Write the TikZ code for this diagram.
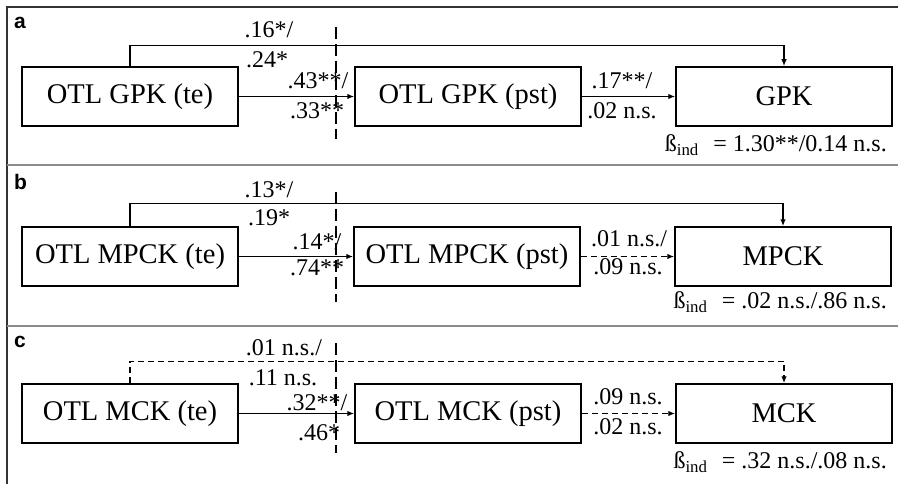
\documentclass[tikz,border=0pt]{standalone}
\usepackage{fontspec}
\setmainfont{Liberation Serif}
\newfontfamily\panelfont{Liberation Sans}
\usetikzlibrary{arrows.meta}
\tikzset{
  x=1pt, y=-1pt,
  varbox/.style={draw, line width=1.5pt, minimum width=216pt, minimum height=59pt, inner sep=0pt, font=\fontsize{28.5}{31}\selectfont},
  conn/.style={line width=1.4pt, -{Latex[length=7pt,width=5.5pt]}},
  nsconn/.style={conn, dash pattern=on 6pt off 4pt},
  coef/.style={inner sep=0pt, font=\fontsize{24}{26}\selectfont},
  indlab/.style={inner sep=0pt, anchor=east, font=\fontsize{24}{26}\selectfont},
  divider/.style={line width=1.4pt, dash pattern=on 12pt off 5pt},
  panellab/.style={inner sep=0pt, anchor=base west, font=\panelfont\bfseries\fontsize{21}{23}\selectfont},
  frameline/.style={line width=1.8pt, draw=black!80},
  sepline/.style={line width=1.5pt, draw=black!45}
}
\newcommand{\bind}{ß\textsubscript{ind}\hspace{0.6em}=~}
\begin{document}
\begin{tikzpicture}
\useasboundingbox (0,0) rectangle (904,484);
% frame
\draw[frameline] (7,484) -- (7,7) -- (898,7);
\draw[sepline] (7,165) -- (898,165);
\draw[sepline] (7,326) -- (898,326);

% ---------- panel a ----------
\node[panellab] (la) at (14,29) {a};
\node[varbox] (a1) at (130,96.5) {OTL GPK (te)};
\node[varbox, minimum width=226pt] (a2) at (468,96.5) {OTL GPK (pst)};
\node[varbox] (a3) at (784,96.5) {GPK};
\draw[conn] (a1.north) -- ++(0,-21) -| (a3.north);
\draw[conn] (a1.east) -- (a2.west);
\draw[conn] (a2.east) -- (a3.west);
\draw[divider] (336,27) -- (336,139);
\node[coef] (a11) at (269,30) {.16*/};
\node[coef] (a12) at (267,60) {.24*};
\node[coef] (a13) at (318,81) {.43**/};
\node[coef] (a14) at (317,111) {.33**};
\node[coef] (a15) at (622,81) {.17**/};
\node[coef] (a16) at (622,111) {.02 n.s.};
\node[indlab] (a17) at (887,145) {\bind 1.30**/0.14 n.s.};

% ---------- panel b ----------
\node[panellab] (lb) at (14,189) {b};
\node[varbox] (b1) at (130,256.5) {OTL MPCK (te)};
\node[varbox, minimum width=226pt] (b2) at (467,256.5) {OTL MPCK (pst)};
\node[varbox] (b3) at (783,256.5) {MPCK};
\draw[conn] (b1.north) -- ++(0,-23) -| (b3.north);
\draw[conn] (b1.east) -- (b2.west);
\draw[nsconn] (b2.east) -- (b3.west);
\draw[divider] (336,192) -- (336,302);
\node[coef] (b11) at (269,190) {.13*/};
\node[coef] (b12) at (269,218) {.19*};
\node[coef] (b13) at (317,242) {.14*/};
\node[coef] (b14) at (317,268) {.74**};
\node[coef] (b15) at (629,239) {.01 n.s./};
\node[coef] (b16) at (628,267) {.09 n.s.};
\node[indlab] (b17) at (887,302) {\bind .02 n.s./.86 n.s.};

% ---------- panel c ----------
\node[panellab] (lc) at (14,347) {c};
\node[varbox] (c1) at (130,413.5) {OTL MCK (te)};
\node[varbox, minimum width=226pt] (c2) at (468,413.5) {OTL MCK (pst)};
\node[varbox] (c3) at (784,413.5) {MCK};
\draw[nsconn] (c1.north) -- ++(0,-22) -| (c3.north);
\draw[conn] (c1.east) -- (c2.west);
\draw[nsconn] (c2.east) -- (c3.west);
\draw[divider] (336,343) -- (336,453);
\node[coef] (c11) at (284,348) {.01 n.s./};
\node[coef] (c12) at (283,378) {.11 n.s.};
\node[coef] (c13) at (317,403) {.32**/};
\node[coef] (c14) at (319,433) {.46*};
\node[coef] (c15) at (628,397) {.09 n.s.};
\node[coef] (c16) at (628,427) {.02 n.s.};
\node[indlab] (c17) at (887,462) {\bind .32 n.s./.08 n.s.};
\end{tikzpicture}
\end{document}
